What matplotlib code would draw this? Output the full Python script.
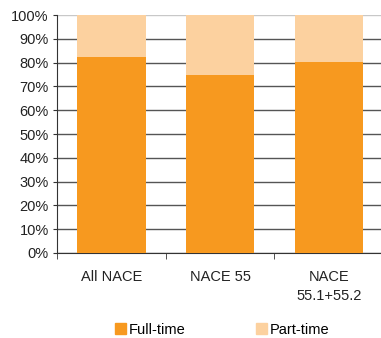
import numpy as np
import matplotlib.pyplot as plt
from matplotlib.patches import Patch

categories = ["All NACE", "NACE 55", "NACE\n55.1+55.2"]
full_time = [82.5, 74.8, 80.4]
part_time = [100 - v for v in full_time]

plt.rcParams['font.family'] = ['Liberation Sans', 'DejaVu Sans']
plt.rcParams['font.size'] = 10.5

fig = plt.figure(figsize=(3.81, 3.38), dpi=100)
ax = fig.add_axes([0.1496, 0.2515, 0.856, 0.704])

x = np.arange(len(categories))
c_full = "#F7991F"
c_part = "#FCD19F"
ax.bar(x, full_time, width=0.63, color=c_full, zorder=3)
ax.bar(x, part_time, width=0.63, bottom=full_time, color=c_part, zorder=3)

ax.set_xlim(-0.5, 2.5)
ax.set_ylim(0, 100)
ax.set_yticks(np.arange(0, 101, 10))
ax.set_yticklabels([f"{v}%" for v in range(0, 101, 10)], color="#222222")
ax.yaxis.grid(True, color="#555555", linewidth=1.0, zorder=0)
ax.get_ygridlines()[-1].set_color("#c8c8c8")

ax.set_xticks(x)
ax.set_xticklabels(categories, color="#222222", linespacing=1.45)
ax.set_xticks([-0.5, 0.5, 1.5, 2.5], minor=True)
ax.tick_params(axis='x', which='major', length=0, pad=12)
ax.tick_params(axis='x', which='minor', length=4, color="#333333")
ax.tick_params(axis='y', length=3, color="#333333", pad=3)

for side in ["top", "right"]:
    ax.spines[side].set_visible(False)
ax.spines["left"].set_color("#333333")
ax.spines["bottom"].set_color("#333333")

handles = [Patch(color=c_full, label="Full-time"), Patch(color=c_part, label="Part-time")]
fig.legend(handles=handles, loc="center", bbox_to_anchor=(0.583, 0.024), ncol=2,
           frameon=False, handlelength=0.75, handleheight=0.75, handletextpad=0.2,
           columnspacing=4.8, fontsize=10.5)

fig.savefig("out.png", dpi=100)
